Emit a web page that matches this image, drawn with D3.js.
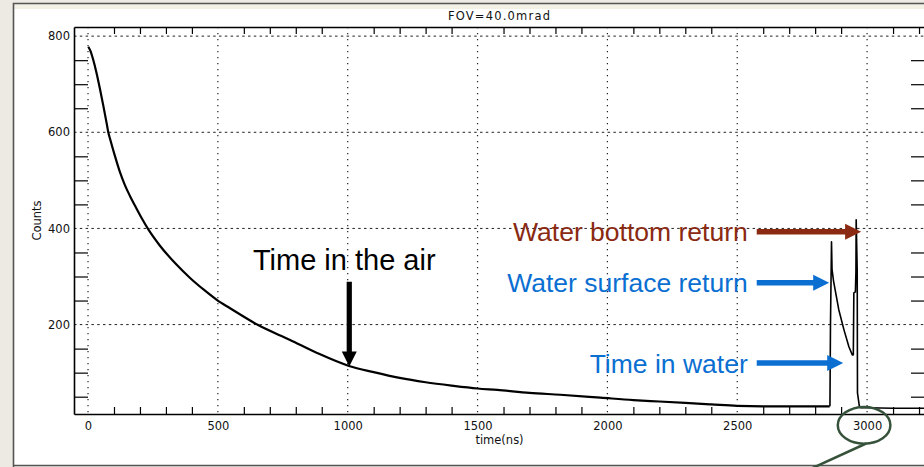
<!DOCTYPE html>
<html>
<head>
<meta charset="utf-8">
<script src="https://d3js.org/d3.v7.min.js"></script>
<style>
  body { margin: 0; background: #edeae3; }
  svg { display: block; }
  .lbl { font-family: "DejaVu Sans", sans-serif; font-size: 11.5px; fill: #111; }
  .note { font-family: "Liberation Sans", Arial, sans-serif; }
</style>
</head>
<body>
<script>
// lidar waveform: time (ns) / counts
var timeAir = [1, 8, 20, 33, 46, 59, 72, 78, 85, 104, 123, 142, 162, 185, 208, 231, 277, 335, 393, 447,
  497, 547, 655, 778, 882, 1005, 1100, 1200, 1300, 1400, 1500, 1576, 1700, 1819, 1973, 2100, 2200, 2300, 2400, 2500,
  2600, 2700, 2800, 2856];
var countsAir = [778, 771, 751, 723, 690, 655, 618, 600, 586, 550, 517, 490, 467, 443, 420, 399, 364, 328, 297, 272,
  251, 234, 199, 168, 141, 114, 101, 89, 80, 73, 67, 64, 58, 54, 48, 43, 40, 37, 34, 31,
  30, 30, 30, 30];
var timeWater = [2856, 2857, 2859, 2863, 2865, 2871, 2891, 2911, 2930, 2943, 2947, 2949, 2955, 2957, 2958, 2962, 2963, 2970, 2976, 3000, 3100, 3223];
var countsWater = [30, 32, 199, 372, 315, 290, 231, 189, 154, 137, 137, 266, 268, 310, 418, 312, 58, 31, 27, 27, 26, 26];

var xTickLabels = [0, 500, 1000, 1500, 2000, 2500, 3000];
var yTickLabels = [200, 400, 600, 800];

var notes = [
  {text: "Water bottom return", color: "#8b2a12", tipX: 2977, tipY: 393, tailX: 2575},
  {text: "Water surface return", color: "#0b6fd2", tipX: 2854, tipY: 287, tailX: 2575},
  {text: "Time in water", color: "#0b6fd2", tipX: 2908, tipY: 120, tailX: 2575}
];
var airNote = {text: "Time in the air", tipX: 1006, tipY: 113, tailY: 289};

var W = 924, H = 467;
var pLeft = 74, pTop = 27, pRight = 925, pBottom = 414;

var svg = d3.select("body").append("svg").attr("width", W).attr("height", H);

// slide backdrop and frame
svg.append("rect").attr("width", W).attr("height", H).attr("fill", "#edeae3");
svg.append("rect").attr("x", 14).attr("y", 4).attr("width", W - 14).attr("height", 5).attr("fill", "#f3f0e6");
svg.append("rect").attr("x", 14).attr("y", 9).attr("width", W - 14).attr("height", 456).attr("fill", "#fff");
svg.append("path").attr("d", "M13.5,467V3.5H924M13.5,465.5H924")
  .attr("fill", "none").attr("stroke", "#555").attr("stroke-width", 1.6);

var x = d3.scaleLinear().domain([-54, 3223]).range([pLeft, pRight]);
var y = d3.scaleLinear().domain([14, 819]).range([pBottom, pTop]);

var xMinor = d3.range(100, 3300, 100).filter(function(d) { return d % 500 != 0; });
var yMinor = d3.range(50, 820, 50).filter(function(d) { return d % 200 != 0; });

// grid
svg.append("g").selectAll("line").data(yTickLabels).enter().append("line")
  .attr("x1", pLeft).attr("x2", pRight).attr("y1", function(d) { return y(d); }).attr("y2", function(d) { return y(d); })
  .attr("stroke", "#222").attr("stroke-width", 1).attr("stroke-dasharray", "2.5,3.3");
svg.append("g").selectAll("line").data(xTickLabels).enter().append("line")
  .attr("y1", pTop).attr("y2", pBottom).attr("x1", function(d) { return x(d); }).attr("x2", function(d) { return x(d); })
  .attr("stroke", "#222").attr("stroke-width", 1.2).attr("stroke-dasharray", "1.2,4.8");

// axes with inward minor ticks
function styleAxis(g) {
  g.selectAll(".domain").attr("stroke", "#000").attr("stroke-width", 1.6);
  g.selectAll(".tick line").attr("stroke", "#000").attr("stroke-width", 1.2);
}
svg.append("g").attr("transform", "translate(" + pLeft + ",0)")
  .call(d3.axisLeft(y).tickValues(yMinor).tickSizeInner(-14).tickSizeOuter(0).tickFormat("")).call(styleAxis);
svg.append("g").attr("transform", "translate(" + pRight + ",0)")
  .call(d3.axisRight(y).tickValues(yMinor).tickSizeInner(-14).tickSizeOuter(0).tickFormat("")).call(styleAxis);
svg.append("g").attr("transform", "translate(0," + pTop + ")")
  .call(d3.axisTop(x).tickValues(xMinor).tickSizeInner(-7).tickSizeOuter(0).tickFormat("")).call(styleAxis);
svg.append("g").attr("transform", "translate(0," + pBottom + ")")
  .call(d3.axisBottom(x).tickValues(xMinor).tickSizeInner(-7).tickSizeOuter(0).tickFormat("")).call(styleAxis);

// tick labels
var yl = svg.append("g").attr("transform", "translate(" + pLeft + ",0)")
  .call(d3.axisLeft(y).tickValues(yTickLabels).tickSize(0).tickPadding(4).tickFormat(d3.format("d")));
yl.select(".domain").remove();
yl.selectAll("text").attr("class", "lbl");
yl.attr("font-family", null).attr("font-size", null);
var xl = svg.append("g").attr("transform", "translate(0," + pBottom + ")")
  .call(d3.axisBottom(x).tickValues(xTickLabels).tickSize(0).tickPadding(8).tickFormat(d3.format("d")));
xl.select(".domain").remove();
xl.selectAll("text").attr("class", "lbl");
xl.attr("font-family", null).attr("font-size", null);

svg.append("text").attr("class", "lbl").attr("x", (pLeft + pRight) / 2).attr("y", 20)
  .attr("text-anchor", "middle").style("letter-spacing", "1.2px").text("FOV=40.0mrad");
svg.append("text").attr("class", "lbl").attr("x", (pLeft + pRight) / 2).attr("y", 444)
  .attr("text-anchor", "middle").text("time(ns)");
svg.append("text").attr("class", "lbl").attr("transform", "translate(41," + ((pTop + pBottom) / 2) + ") rotate(-90)")
  .attr("text-anchor", "middle").text("Counts");

// waveform: smooth decay in air, sharp returns in water
var line = d3.line().x(function(d) { return x(d[0]); }).y(function(d) { return y(d[1]); });
var smooth = d3.line().curve(d3.curveMonotoneX).x(function(d) { return x(d[0]); }).y(function(d) { return y(d[1]); });
svg.append("path").datum(d3.zip(timeAir, countsAir)).attr("d", smooth)
  .attr("fill", "none").attr("stroke", "#000").attr("stroke-width", 2.2).attr("stroke-linejoin", "round");
svg.append("path").datum(d3.zip(timeWater, countsWater)).attr("d", line)
  .attr("fill", "none").attr("stroke", "#000").attr("stroke-width", 1.6).attr("stroke-linejoin", "round");

// annotations
notes.forEach(function(n) {
  var tx = x(n.tipX), ty = y(n.tipY), sx = x(n.tailX), hb = tx - 16;
  svg.append("path")
    .attr("d", "M" + sx + "," + (ty - 2.7) + "H" + hb + "V" + (ty - 8) + "L" + tx + "," + ty +
      "L" + hb + "," + (ty + 8) + "V" + (ty + 2.7) + "H" + sx + "Z")
    .attr("fill", n.color);
  svg.append("text").attr("class", "note").attr("x", sx - 9).attr("y", ty + 9.5)
    .attr("text-anchor", "end").attr("font-size", 26.5).attr("fill", n.color).text(n.text);
});

var ax = x(airNote.tipX), ay = y(airNote.tipY), at = y(airNote.tailY), ahb = ay - 15;
svg.append("path")
  .attr("d", "M" + (ax - 2.6) + "," + at + "V" + ahb + "H" + (ax - 7.5) + "L" + ax + "," + ay +
    "L" + (ax + 7.5) + "," + ahb + "H" + (ax + 2.6) + "V" + at + "Z")
  .attr("fill", "#000");
svg.append("text").attr("class", "note").attr("x", ax - 5).attr("y", at - 12)
  .attr("text-anchor", "middle").attr("font-size", 29).attr("fill", "#000").text(airNote.text);

// circled 3000 label with pointer
svg.append("ellipse").attr("cx", x(3000) - 3).attr("cy", 425.3).attr("rx", 26.3).attr("ry", 18.4)
  .attr("fill", "none").attr("stroke", "#36523b").attr("stroke-width", 2.5);
svg.append("line").attr("x1", x(3000) - 1).attr("y1", 443.5).attr("x2", 806).attr("y2", 471)
  .attr("stroke", "#36523b").attr("stroke-width", 2.5);
</script>
</body>
</html>
